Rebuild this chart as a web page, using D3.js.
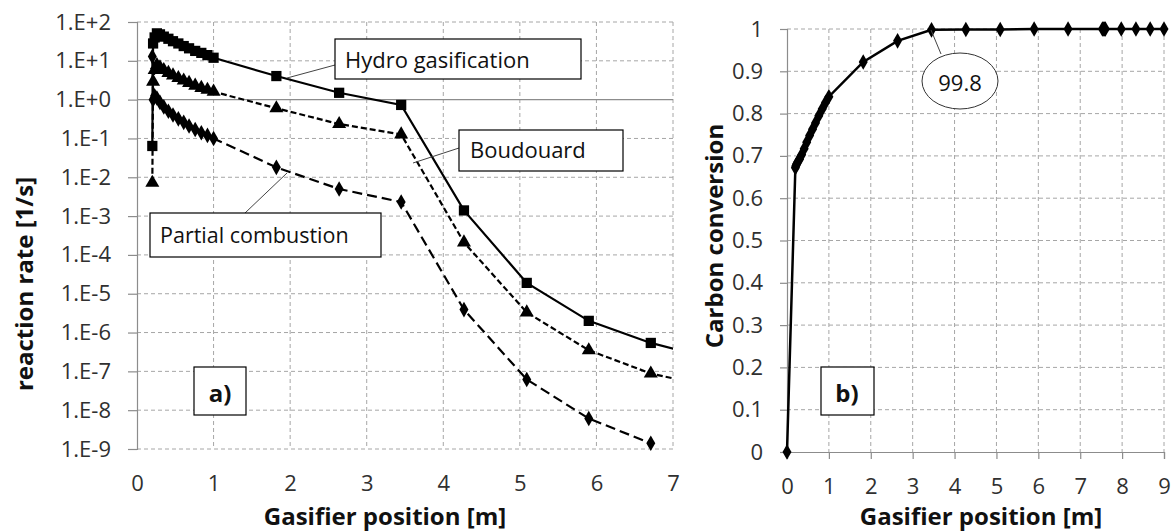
<!DOCTYPE html>
<html><head><meta charset="utf-8">
<script src="https://cdn.jsdelivr.net/npm/d3@7/dist/d3.min.js"></script>
<style>body{margin:0;background:#fff}svg{display:block}text{font-family:"Open Sans",sans-serif}</style>
</head><body><svg id="c" width="1174" height="531"></svg>
<script>
// ---- Data (left chart: reaction rates, log scale) ----
const xsLeft = [0.2, 0.21, 0.23, 0.26, 0.3, 0.35, 0.41, 0.47, 0.54, 0.61, 0.68, 0.76, 0.84, 0.92, 1.0, 1.82, 2.64, 3.45, 4.27, 5.09, 5.9, 6.71, 7.53];
const hydro = [0.064, 28, 40, 51, 48, 42, 37, 32, 28, 24, 21, 18, 16, 14, 12, 4.05, 1.5, 0.73, 1.4e-3, 1.9e-5, 2.0e-6, 5.4e-7, 2.1e-7];
const boudouard = [0.0072, 2.9, 5.8, 7.8, 6.8, 5.8, 4.9, 4.2, 3.6, 3.1, 2.7, 2.3, 2.0, 1.8, 1.6, 0.6, 0.235, 0.127, 2.1e-4, 3.3e-6, 3.5e-7, 8.8e-8, 3.9e-8];
const partial = [13, 1.0, 1.25, 1.1, 0.85, 0.65, 0.5, 0.4, 0.32, 0.26, 0.21, 0.17, 0.14, 0.12, 0.1, 0.018, 5e-3, 2.3e-3, 3.9e-6, 6.2e-8, 6.1e-9, 1.4e-9];
const leftYTicks = [1e2, 1e1, 1e0, 1e-1, 1e-2, 1e-3, 1e-4, 1e-5, 1e-6, 1e-7, 1e-8, 1e-9];
const leftYLabels = ["1.E+2","1.E+1","1.E+0","1.E-1","1.E-2","1.E-3","1.E-4","1.E-5","1.E-6","1.E-7","1.E-8","1.E-9"];
const leftXTicks = [0,1,2,3,4,5,6,7];
// ---- Data (right chart: carbon conversion) ----
const xsRight = [0, 0.2, 0.21, 0.23, 0.26, 0.3, 0.35, 0.41, 0.47, 0.54, 0.61, 0.68, 0.76, 0.84, 0.92, 1.0, 1.82, 2.64, 3.45, 4.27, 5.09, 5.9, 6.71, 7.53, 7.56, 7.58, 7.6, 7.98, 8.33, 8.67, 9.0];
const conversion = [0, 0.672, 0.676, 0.681, 0.686, 0.692, 0.703, 0.717, 0.732, 0.748, 0.763, 0.778, 0.795, 0.811, 0.826, 0.84, 0.922, 0.972, 0.998, 0.999, 0.999, 1, 1, 1, 1, 1, 1, 1, 1, 1, 1];
const rightYTicks = [0,0.1,0.2,0.3,0.4,0.5,0.6,0.7,0.8,0.9,1];
const rightXTicks = [0,1,2,3,4,5,6,7,8,9];
const labelsLeft = ["Hydro gasification","Boudouard","Partial combustion","a)"];
const labelsRight = ["99.8","b)"];

const svg = d3.select("#c");
const GRID = "#a6a6a6", AXIS = "#8c8c8c", TXT = "#303030";
const TFS = 22;
const defs = svg.append("defs");

// ================= LEFT CHART =================
const L = {x0:137, x1:673, y0:22, y1:449};
const xL = d3.scaleLinear().domain([0,7]).range([L.x0,L.x1]);
const yL = d3.scaleLog().domain([1e-9,1e2]).range([L.y1,L.y0]);
defs.append("clipPath").attr("id","clipL").append("rect")
  .attr("x",L.x0-8).attr("y",L.y0-8).attr("width",L.x1-L.x0+8).attr("height",L.y1-L.y0+16);
const gL = svg.append("g");
gL.selectAll(".hg").data(leftYTicks.filter(d=>d!==1)).join("line")
  .attr("x1",L.x0).attr("x2",L.x1).attr("y1",d=>yL(d)).attr("y2",d=>yL(d))
  .attr("stroke",GRID).attr("stroke-dasharray","4,3");
gL.selectAll(".vg").data(leftXTicks.filter(d=>d>0)).join("line")
  .attr("x1",d=>xL(d)).attr("x2",d=>xL(d)).attr("y1",L.y0).attr("y2",L.y1)
  .attr("stroke",GRID).attr("stroke-dasharray","4,3");
gL.append("line").attr("x1",L.x0).attr("x2",L.x1).attr("y1",yL(1)).attr("y2",yL(1)).attr("stroke",AXIS).attr("stroke-width",1.2);
const yAxL = d3.axisLeft(yL).tickValues(leftYTicks).tickSize(9).tickFormat((d,i)=>leftYLabels[i]);
const ga = gL.append("g").attr("transform",`translate(${L.x0},0)`).call(yAxL);
ga.select(".domain").attr("stroke",AXIS).attr("stroke-width",1.2);
ga.selectAll(".tick line").attr("stroke",AXIS).attr("stroke-width",1.2);
ga.selectAll(".tick text").attr("x",-26).attr("font-size",TFS).attr("fill",TXT).attr("font-family","Open Sans");
const xAxL = d3.axisBottom(xL).tickValues(leftXTicks).tickSize(0).tickFormat(d3.format("d"));
const gx = gL.append("g").attr("transform",`translate(0,${L.y1})`).call(xAxL);
gx.select(".domain").remove();
gx.selectAll(".tick text").attr("y",26).attr("dy","0.71em").attr("font-size",TFS).attr("fill",TXT).attr("font-family","Open Sans");
gL.append("text").attr("x",(258+512)/2).attr("y",525).attr("text-anchor","middle")
  .attr("font-weight","bold").attr("font-size",24).attr("fill","#111").text("Gasifier position [m]");
gL.append("text").attr("transform","translate(33,284) rotate(-90)").attr("text-anchor","middle")
  .attr("font-weight","bold").attr("font-size",24).attr("fill","#111").text("reaction rate [1/s]");

const plotL = gL.append("g").attr("clip-path","url(#clipL)");
function seriesL(vals, dash, sym, size){
  const pts = vals.map((v,i)=>[xsLeft[i],v]);
  const line = d3.line().x(d=>xL(d[0])).y(d=>yL(d[1]));
  plotL.append("path").attr("d",line(pts)).attr("fill","none").attr("stroke","#000")
    .attr("stroke-width",2.2).attr("stroke-dasharray",dash);
  plotL.selectAll(null).data(pts.filter(d=>d[0]<=7)).join("path")
    .attr("transform",d=>`translate(${xL(d[0])},${yL(d[1])})`)
    .attr("d",d3.symbol().type(sym).size(size)).attr("fill","#000");
}
seriesL(partial,"10,5",d3.symbolDiamond,70);
seriesL(boudouard,"6,3",d3.symbolTriangle,85);
seriesL(hydro,null,d3.symbolSquare,105);

function box(g,x,y,w,h,t,tx,ty,anchor,fs,fw){
  g.append("rect").attr("x",x).attr("y",y).attr("width",w).attr("height",h)
    .attr("fill","#fff").attr("stroke","#000").attr("stroke-width",1.2);
  g.append("text").attr("x",tx).attr("y",ty).attr("text-anchor",anchor).attr("font-size",fs)
    .attr("font-weight",fw||"normal").attr("fill","#111").text(t);
}
function leader(g,x1,y1,x2,y2){
  g.append("line").attr("x1",x1).attr("y1",y1).attr("x2",x2).attr("y2",y2).attr("stroke","#444").attr("stroke-width",1);
}
leader(gL,335,65,287,78);
leader(gL,459,148,413,163);
leader(gL,245,213,287,173);
box(gL,335,39,246,40,labelsLeft[0],345,68,"start",22);
box(gL,459,130,164,41,labelsLeft[1],470,158,"start",22);
box(gL,150,213,231,44,labelsLeft[2],160,243,"start",21.5);
box(gL,194,367,52,48,labelsLeft[3],220,402,"middle",24,"bold");

// ================= RIGHT CHART =================
const R = {x0:787, x1:1164, y0:29, y1:452};
const xR = d3.scaleLinear().domain([0,9]).range([R.x0,R.x1]);
const yR = d3.scaleLinear().domain([0,1]).range([R.y1,R.y0]);
const gR = svg.append("g");
gR.selectAll(".hg").data(rightYTicks.filter(d=>d>0)).join("line")
  .attr("x1",R.x0).attr("x2",R.x1).attr("y1",d=>yR(d)).attr("y2",d=>yR(d))
  .attr("stroke",GRID).attr("stroke-dasharray","4,3");
gR.selectAll(".vg").data(rightXTicks.filter(d=>d>0)).join("line")
  .attr("x1",d=>xR(d)).attr("x2",d=>xR(d)).attr("y1",R.y0).attr("y2",R.y1)
  .attr("stroke",GRID).attr("stroke-dasharray","4,3");
const yAxR = d3.axisLeft(yR).tickValues(rightYTicks).tickSize(7).tickFormat(d=>d3.format("~g")(d));
const gy2 = gR.append("g").attr("transform",`translate(${R.x0},0)`).call(yAxR);
gy2.select(".domain").attr("stroke",AXIS).attr("stroke-width",1.2);
gy2.selectAll(".tick line").attr("stroke",AXIS).attr("stroke-width",1.2);
gy2.selectAll(".tick text").attr("x",-24).attr("font-size",TFS).attr("fill",TXT).attr("font-family","Open Sans");
const xAxR = d3.axisBottom(xR).tickValues(rightXTicks).tickSize(7).tickFormat(d3.format("d"));
const gx2 = gR.append("g").attr("transform",`translate(0,${R.y1})`).call(xAxR);
gx2.select(".domain").attr("stroke",AXIS).attr("stroke-width",1.2);
gx2.selectAll(".tick line").attr("stroke",AXIS).attr("stroke-width",1.2);
gx2.selectAll(".tick text").attr("y",26).attr("dy","0.71em").attr("font-size",TFS).attr("fill",TXT).attr("font-family","Open Sans");
gR.append("text").attr("x",(855+1107)/2).attr("y",525).attr("text-anchor","middle")
  .attr("font-weight","bold").attr("font-size",24).attr("fill","#111").text("Gasifier position [m]");
gR.append("text").attr("transform","translate(723,236) rotate(-90)").attr("text-anchor","middle")
  .attr("font-weight","bold").attr("font-size",24).attr("fill","#111").text("Carbon conversion");
const ptsR = conversion.map((v,i)=>[xsRight[i],v]);
gR.append("path").attr("d",d3.line().x(d=>xR(d[0])).y(d=>yR(d[1]))(ptsR))
  .attr("fill","none").attr("stroke","#000").attr("stroke-width",2.5);
gR.selectAll(null).data(ptsR).join("path")
  .attr("transform",d=>`translate(${xR(d[0])},${yR(d[1])})`)
  .attr("d",d3.symbol().type(d3.symbolDiamond).size(70)).attr("fill","#000");
leader(gR,931,30,941,54);
gR.append("ellipse").attr("cx",960).attr("cy",81).attr("rx",38).attr("ry",28)
  .attr("fill","#fff").attr("stroke","#333").attr("stroke-width",1);
gR.append("text").attr("x",960).attr("y",91).attr("text-anchor","middle").attr("font-size",22).attr("fill","#111").text(labelsRight[0]);
box(gR,821,367,53,48,labelsRight[1],847,402,"middle",24,"bold");
</script></body></html>
